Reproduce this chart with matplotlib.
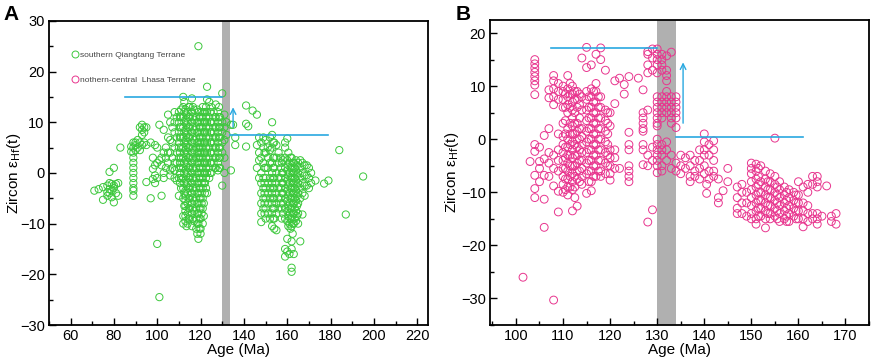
import matplotlib
matplotlib.use("Agg")
import matplotlib.pyplot as plt
from matplotlib.lines import Line2D
from matplotlib.ticker import MultipleLocator

plt.rcParams['font.family'] = ['Liberation Sans', 'DejaVu Sans']

# southern Qiangtang Terrane: (age, [eHf(t) values])
qiangtang_cols = [
    (71, [-3.5]), (73, [-3.2]), (75, [-5.3, -2.8]), (77, [-2.5, -3.8, -4.5]),
    (78, [0.2, -2, -3.2, -4]), (79, [-2.2, -3.5, -4.8]), (80, [1, -2.5, -5.8, -3]),
    (81, [-2.2, -4]), (82, [-2, -4.5]), (83, [5]), (88, [4.2, 5.2]),
    (89, [6, 5, 4, 3, 2, 1, 0, -1, -2, -3, -3.5, -4.5]),
    (90, [5.5, 4.5, 6]), (91, [5, 6.5]), (92, [9, 4.5, 6]), (93, [9.5, 8.5, 7.5, 5.5]),
    (94, [9, 8, 6]), (95, [9, 5.5, -1.8]), (97, [6, -5]), (98, [3, 0.8, -1.2]),
    (99, [5.5, 1.5, -0.5, -2]), (100, [5, 2, -1, -14]), (101, [9.5, 2.5, -24.5]),
    (102, [1.5, -4.5, 3]), (103, [8.5, 4, 0, -1]), (104, [5, 3, 1]),
    (105, [11.5, 7, 4, 2]), (106, [10, 6.5, 4, 0.5, -0.5]), (107, [9, 6, 3, 1]),
    (108, [12, 10, 8, 5, 2, 0.5, -1]), (109, [11, 7, 4, 2, -1.5]),
    (110, [12, 10, 8, 6, 5, 3, 1, -1, -4.5]),
    (110.5, [11, 9, 7, 4, 2, 0, -2]),
    (111, [12.5, 11, 9, 7, 5, 3, 1, -1, -3]),
    (112, [15, 13, 11, 9, 7, 5, 3, 1, -1, -3, -5, -8.5, -10]),
    (112.5, [14, 12, 10, 8, 6, 4, 2, 0, -2, -4, -6.5]),
    (113, [12.5, 10.5, 8.5, 6.5, 4.5, 2.5, 0.5, -1.5, -3.5, -4.5, -5.5, -6.5, -7.5, -8.5, -9.5]),
    (113.5, [11.5, 9.5, 7.5, 5.5, 3.5, 1.5, -0.5, -2.5, -10.5]),
    (114, [12, 10, 8, 6, 4, 2, 0, -2, -4, -6, -8, -10]),
    (114.5, [13, 11, 9, 7, 5, 3, 1, -1, -3, -5, -7, -9]),
    (115, [13, 11, 9, 7, 5, 3, 1, -1, -3, -5, -7, -9]),
    (116, [14.7, 12, 10, 8, 6, 4, 2, 0, -2, -4, -6, -8, -10.5]),
    (116.5, [13, 11, 9, 7, 5, 3, 1, -1, -3, -5, -7, -9]),
    (117, [12.5, 10.5, 8.5, 6.5, 4.5, 2.5, 0.5, -1.5, -3.5, -5.5, -7.5, -9.5]),
    (118, [11, 9, 7, 5, 3, 1, -1, -3, -5, -7, -9, -11]),
    (118.5, [12.5, 10, 8, 6, 4, 2, 0, -2, -4, -6, -8, -10, -12]),
    (119, [25, 12, 10, 8, 6, 5, 4, 3, 2, 0, -2, -4, -6, -8, -10, -13]),
    (119.5, [11, 9, 7, 5, 3, 1, -1, -3, -5, -7, -9, -11]),
    (120, [11, 9, 7, 6, 5, 4, 3, 1, -1, -3, -5, -7, -9, -11, -12]),
    (120.5, [12, 10, 8, 6, 4, 2, 0, -2, -4, -6, -8]),
    (121, [13, 11, 9, 7, 5, 3, 1, -1, -3, -5, -7, -10]),
    (121.5, [12, 10, 8, 6, 4, 2, 0, -2, -6, -8.5]),
    (122, [12, 10, 8, 6, 4, 2, 0, -2, -4]),
    (122.5, [13, 11, 9, 7, 5, 3, 1, -1, -3]),
    (123, [17, 14.5, 12, 10, 8, 6, 4, 2, 0, -4]),
    (124, [14, 11, 9, 7, 5, 3, 1, -1]), (124.5, [12, 10, 8, 6, 4, 2, 0]),
    (125, [13, 10, 8, 6, 4, 2, 0]),
    (126, [12, 10, 8, 6, 4, 2]), (126.5, [11, 9, 7, 5, 3, 1]),
    (127, [13.5, 11, 9, 7, 5, 3, 1]),
    (128, [12, 10, 8, 6, 4, 2, 0.5]), (128.5, [13, 11, 9, 7, 5, 3, 1]),
    (129, [11, 9, 7, 5, 3, 1]),
    (130, [15.7, 10, 8, 6, 4, -2.5]), (131, [11.5, 9, 6.5, 3, 0]), (132, [10, 7.5]),
    (134, [0.5, 9.5]), (135, [9.5]), (136, [7, 5.5]), (141, [13.3, 9.7, 5.2]),
    (142, [9.2]), (144, [12.3]), (146, [11.5, 1, 5.5]), (147, [7, 4, 2.5, -1]),
    (148, [6, 3, 0, -2, -4, -6, -8, -9.7]), (149, [7, 5, 2, -1, -3, -5, -7]),
    (149.5, [4, 1, -2, -4, -6, -8]),
    (150, [6.5, 4, 1, -1, -3, -5, -7, -9]), (151, [5, 3, 1, -2, -4, -6, -8]),
    (152, [7, 4.5, 2, -1, -3, -5, -9]),
    (153, [10, 7.5, 5, 2, 0, -2, -4, -6, -8, -10.5]),
    (153.5, [6, 3, 1, -1, -3, -5, -7, -9]),
    (154, [6, 3, 1, -1, -3, -5, -7, -9, -11]),
    (155, [5.5, 3, 0, -2, -4, -6, -8, -11.3]), (156, [4, 2, -1, -3, -5, -7]),
    (157, [3, 1, -1, -3, -5, -6]), (157.5, [2, 0, -2, -4, -7, -9]),
    (158, [2.5, 0, -2, -4, -6, -8]),
    (159, [6, 5, 3, 1, -1, -3, -5, -7, -9, -15, -16.5]),
    (160, [6.8, 2.5, 0.5, -1.5, -3.5, -5.5, -7.5, -9.5, -13, -15.5]),
    (160.5, [4, 1.5, -0.5, -2.5, -4.5, -6.5, -8.5, -10.5]),
    (161, [2, 0, -2, -4, -6, -8, -10, -16]),
    (161.5, [3, 1, -1, -3, -5, -7, -9, -11]),
    (162, [3, 1, -1, -3, -5, -7, -9, -10.5, -13.5, -15, -18.7, -19.5]),
    (162.5, [2, 0, -2, -4, -6, -8, -10, -12]),
    (163, [2, 0, -2, -4, -6, -8, -10, -16]),
    (163.5, [1, -1, -3, -5, -7, -9]),
    (164, [2.5, 0.5, -1.5, -3.5, -5.5, -7.5, -9.5]),
    (164.5, [1.5, -0.5, -2.5, -4.5, -6.5, -8.5]),
    (165, [2, 0, -2, -4, -6, -8, -10]), (166, [2.5, 1, -1, -3, -5, -13.5]),
    (167, [2, 0, -2, -4, -8.2]), (168, [1.5, -0.5, -2.5, -4.5]),
    (169, [1.5, -0.5, -2.5]), (170, [1, -1, -3]), (171, [0, -2]), (173, [-1.5]),
    (177, [-2.1]), (179, [-1.5]), (184, [4.5]), (187, [-8.2]), (195, [-0.7]),
]

# northern-central Lhasa Terrane: (age, [eHf(t) values])
lhasa_cols = [
    (101.5, [-26]), (103, [-4.2]),
    (104, [15, 14.2, 13.4, 12.6, 11.8, 11, 10.2, 8.4, -1, -2.3, -6.8, -9.3, -11]),
    (105, [-1.5, -4.2, -5.5, -8]), (106, [0.7, -3.7, -6.8, -11.3, -16.6]),
    (107, [9.3, 7.8, 2, -2.5, -4.5, -7]),
    (108, [12, 11, 9.5, 8, 6.5, -3, -5.5, -8.8, -30.3]),
    (109, [10.5, 9, 7.5, 1, -2, -4, -6, -9.8, -13.7]),
    (110, [10, 9, 7.5, 6, 3, 0.5, -1, -2.5, -4, -5.5, -7, -8.5, -10]),
    (110.5, [8.5, 6, 3.5, 1, -1.5, -3.5, -5.5, -7.5, -9.5]),
    (111, [12, 9.5, 8, 6.5, 5, 2, 0, -1.5, -3, -4.5, -6, -7.5, -9, -10.5]),
    (111.5, [10.5, 8.5, 6, 3, 1, -1, -3, -5, -7, -9]),
    (112, [10, 8.5, 7, 5.5, 4, 2.5, 1, -0.5, -2, -3.5, -5, -6.5, -8, -9.5, -13.5]),
    (112.5, [9, 7.5, 5, 3, 1, -1, -3, -5, -7, -9, -11]),
    (113, [9, 7.5, 6, 3, 1.5, 0, -1.5, -3, -4.5, -6, -7.5, -12.6]),
    (113.5, [8.5, 6.5, 4, 2, 0, -2, -4, -6, -8]),
    (114, [15.3, 8, 5.5, 2, 0.5, -1, -2.5, -4, -5.5, -7, -8.5]),
    (115, [17.3, 13.5, 9, 7.5, 5.5, 3.5, 1.5, -0.5, -2.5, -4.5, -6.5, -10.2]),
    (115.5, [8, 6, 4, 2, 0, -2, -4, -6, -8]),
    (116, [14, 9.5, 8, 6, 4, 2, 0, -2, -4, -6, -8, -9.7]),
    (116.5, [9, 7, 5, 3, 1, -1, -3, -5, -7]),
    (117, [16, 10.5, 9, 7, 5, 3, 1, -1, -3, -5, -7]),
    (117.5, [8, 6, 4, 2, 0, -2, -4, -6]),
    (118, [17.2, 15, 8, 6, 4, 2, 0, -2, -4, -6, -7]),
    (119, [13, 5.5, 3.5, 1.5, -0.5, -2.5, -4.5, -6.5]),
    (119.5, [5, 3, 1, -1, -3, -5]),
    (120, [5, 2.5, -2, -3.5, -5, -6.5, -7.7]), (121, [11, 6.7, -2, -3.5, -5.5]),
    (122, [11.5, -5.5]), (123, [8.5, 10.3]),
    (124, [11.8, 1.3, -1, -2, -5, -6, -7, -8]), (126, [11.5]),
    (127, [9.3, 5, 4, 3, 2, 1.5, -1, -2, -4.8]),
    (128, [16.5, 16, 14, 12.5, 5.5, -3, -5, -15.6]),
    (129, [17, 15.3, 13, -1.5, -4, -13.3]),
    (130, [17, 16, 15, 14, 12.5, 8, 7, 6, 5, 4, 3, 2.5, 0, -1, -2, -3, -4, -5, -6.3]),
    (131, [16, 15, 14, 13, 8, 7, 6, 5, 4, -1, -2, -3, -5, -6]),
    (132, [15.7, 13, 12, 11, 9, 8, 7, 6, 5, -0.5, -2, -4]),
    (133, [16.4, 8, 7, 6, 5, 4, 3, -3, -5.5]),
    (134, [8, 7, 6, 5, 4, 2.2, -4.5, -6]), (135, [-3, -5, -6.5]), (136, [-3.5, -5.5]),
    (137, [-3, -5, -7, -8]), (138, [-4, -6, -7]), (139, [-2, -4, -5.5, -7.5]),
    (140, [1, -0.5, -2, -3, -5, -6.5]), (140.5, [-8.5, -10.2]),
    (141, [-1, -3, -6, -7.5]), (142, [-0.3, -2, -4, -6, -7]),
    (143, [-7.5, -11, -12]), (144, [-9.7]), (145, [-5.5, -8]),
    (147, [-9, -11, -13, -14]), (148, [-8.5, -10, -12, -14]), (149, [-10, -12, -14.5]),
    (150, [-4.5, -5.5, -6.5, -8, -9.5, -11, -12.5, -14, -15]),
    (151, [-4.7, -6, -7.5, -9, -10.5, -12, -13.5, -15, -16]),
    (151.5, [-5.5, -7, -8.5, -10, -11.5, -13, -14.5]),
    (152, [-5, -8, -10, -11.5, -13, -14.5]),
    (153, [-6, -7.5, -9, -10.5, -12, -13.5, -15, -16.7]),
    (153.5, [-8, -9.5, -11, -12.5, -14]),
    (154, [-6.5, -8, -9.5, -11, -12.5, -14, -15]),
    (155, [0.2, -7, -8.5, -10, -11.5, -13, -14.5]),
    (155.5, [-9, -10.5, -12, -13.5, -15]),
    (156, [-8, -9.5, -11, -12.5, -14, -15.5]), (157, [-9, -10.5, -12, -13.5, -15]),
    (157.5, [-10, -11.5, -13, -14.5, -15.5]),
    (158, [-9.5, -11, -12.5, -14, -15.5]), (159, [-10, -11.5, -13, -14.5]),
    (159.5, [-10.5, -12, -13.5, -15]),
    (160, [-8, -10.5, -12, -13.5, -15]), (161, [-9, -12, -13.5, -15, -16.5]),
    (162, [-8.5, -10, -12.5, -14, -15.5]), (163, [-7, -8.5, -14, -15]),
    (164, [-7, -8, -9, -14, -15, -16]), (165, [-14.5]), (166, [-8.8]),
    (167, [-14.5, -15.5]), (168, [-14, -16]),
]

# gray band and blue guide lines (age, eHf)
band_a = (130, 133.5)
band_b = (130, 134)
lines_a = [((85, 130), 15), ((133.5, 179), 7.5)]
arrow_a = (135, 8.5, 13.5)
lines_b = [((107.5, 130), 17.2), ((134, 161), 0.4)]
arrow_b = (135.5, 2.5, 15)

green = '#3cc83c'
pink = '#e8358e'
blue = '#29a8e0'


def flatten(cols):
    xs, ys = [], []
    for age, vals in cols:
        for v in vals:
            xs.append(age)
            ys.append(v)
    return xs, ys


def style_axis(ax, label_x):
    for sp in ax.spines.values():
        sp.set_linewidth(1.3)
    ax.tick_params(which='both', direction='in', top=False, right=False,
                   labelsize=10.5, width=1.0, pad=3)
    ax.tick_params(which='major', length=5)
    ax.tick_params(which='minor', length=3)
    ax.set_xlabel('Age (Ma)', fontsize=11, labelpad=0)
    ax.set_ylabel('Zircon ε$_{\\rm Hf}$(t)', fontsize=11)
    ax.yaxis.set_label_coords(label_x, 0.5)


fig = plt.figure(figsize=(8.72, 3.57), dpi=100)
axA = fig.add_axes([0.056, 0.0896, 0.435, 0.852])
axB = fig.add_axes([0.562, 0.0896, 0.4346, 0.855])

# panel A
axA.axvspan(band_a[0], band_a[1], color='#b0b0b0', lw=0, zorder=1)
xa, ya = flatten(qiangtang_cols)
axA.scatter(xa, ya, s=27, facecolors='none', edgecolors=green, linewidths=0.7, zorder=2)
for (x0, x1), y in lines_a:
    axA.plot([x0, x1], [y, y], color=blue, lw=1.2, zorder=3)
axA.annotate('', xy=(arrow_a[0], arrow_a[2]), xytext=(arrow_a[0], arrow_a[1]),
             arrowprops=dict(arrowstyle='->', color=blue, lw=1.0), zorder=3)
axA.set_xlim(50, 225)
axA.set_ylim(-30, 30)
axA.xaxis.set_major_locator(MultipleLocator(20))
axA.xaxis.set_minor_locator(MultipleLocator(10))
axA.yaxis.set_major_locator(MultipleLocator(10))
axA.yaxis.set_minor_locator(MultipleLocator(5))
style_axis(axA, -0.067)

handles = [Line2D([], [], ls='none', marker='o', ms=5, mfc='none', mec=green, mew=0.7),
           Line2D([], [], ls='none', marker='o', ms=5, mfc='none', mec=pink, mew=0.7)]
axA.legend(handles, ['southern Qiangtang Terrane', 'nothern-central  Lhasa Terrane'],
           loc='upper left', bbox_to_anchor=(0.05, 0.91), frameon=False, fontsize=6,
           handletextpad=0.1, labelspacing=2.0, borderaxespad=0, handlelength=1.0,
           labelcolor='#444444')

# panel B
axB.axvspan(band_b[0], band_b[1], color='#b0b0b0', lw=0, zorder=1)
xb, yb = flatten(lhasa_cols)
axB.scatter(xb, yb, s=32, facecolors='none', edgecolors=pink, linewidths=0.7, zorder=2)
for (x0, x1), y in lines_b:
    axB.plot([x0, x1], [y, y], color=blue, lw=1.2, zorder=3)
axB.annotate('', xy=(arrow_b[0], arrow_b[2]), xytext=(arrow_b[0], arrow_b[1]),
             arrowprops=dict(arrowstyle='->', color=blue, lw=1.0), zorder=3)
axB.set_xlim(94.5, 175)
axB.set_ylim(-35, 22.5)
axB.xaxis.set_major_locator(MultipleLocator(10))
axB.xaxis.set_minor_locator(MultipleLocator(5))
axB.yaxis.set_major_locator(MultipleLocator(10))
axB.yaxis.set_minor_locator(MultipleLocator(5))
style_axis(axB, -0.076)

fig.text(0.004, 0.985, 'A', fontsize=15, fontweight='bold', va='top', ha='left')
fig.text(0.522, 0.985, 'B', fontsize=15, fontweight='bold', va='top', ha='left')

fig.savefig('out.png', dpi=100, facecolor='white')
